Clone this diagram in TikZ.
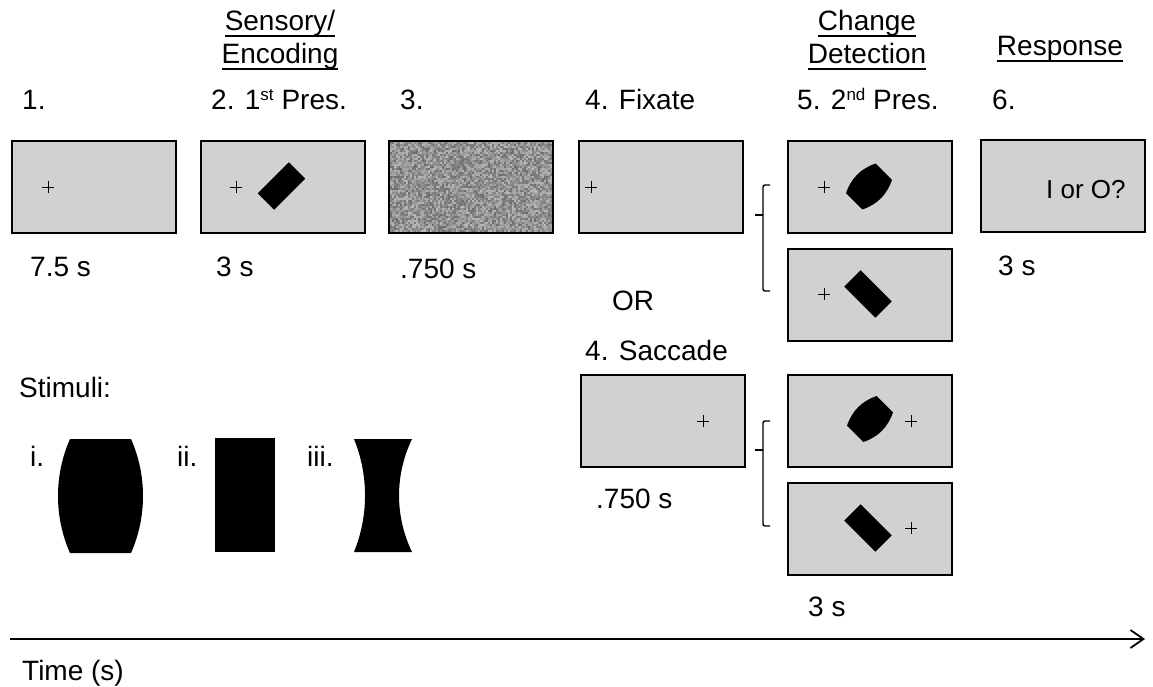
\documentclass[tikz,border=0pt]{standalone}
\usepackage{fontspec}
\setmainfont{Liberation Sans}
\usetikzlibrary{arrows.meta}
\definecolor{scrgray}{RGB}{208,209,211}
\newsavebox\ulbox
\newcommand{\ulx}[1]{\sbox\ulbox{#1}\rlap{\rule[-6pt]{\wd\ulbox}{1.8pt}}\usebox\ulbox}
\newcommand{\supx}[1]{\raisebox{9pt}{\fontsize{17}{17}\selectfont #1}}
\begin{document}
\begin{tikzpicture}[x=1pt,y=-1pt,
  lbl/.style={inner sep=0pt, anchor=base west, font=\fontsize{28}{34}\selectfont},
  hdr/.style={inner sep=0pt, anchor=base, font=\fontsize{28}{34}\selectfont},
  scr/.style={draw=black, line width=1.8pt, fill=scrgray, minimum width=164pt, minimum height=92pt, inner sep=0pt, anchor=north west},
  shp/.style={fill=black},
  brk/.style={line width=1.4pt, rounded corners=2pt},
  fixx/.pic={\draw[line width=0.9pt] (-6,0) -- (6,0) (0,-6) -- (0,6);},
  bulge/.pic={\fill (-21,11.5) .. controls (-7,18.5) and (7,18.5) .. (21,11.5) -- (21,-11.5) .. controls (7,-18.5) and (-7,-18.5) .. (-21,-11.5) -- cycle;},
  bar/.pic={\fill (-22,-11.5) rectangle (22,11.5);}
]
\useasboundingbox (0,0) rectangle (1153,687);

% headers
\node[hdr] (h1a) at (280,31) {\ulx{Sensory/}};
\node[hdr] (h1b) at (280,64) {\ulx{Encoding}};
\node[hdr] (h2a) at (867,31) {\ulx{Change}};
\node[hdr] (h2b) at (867,64) {\ulx{Detection}};
\node[hdr] (h3) at (1060,56) {\ulx{Response}};

% step labels
\node[lbl] (l1) at (22,110) {1.};
\node[lbl] (l2) at (211,110) {2. 1\supx{st} Pres.};
\node[lbl] (l3) at (400,110) {3.};
\node[lbl] (l4) at (585,110) {4. Fixate};
\node[lbl] (l5) at (797,110) {5. 2\supx{nd} Pres.};
\node[lbl] (l6) at (992,110) {6.};

% screens
\node[scr] (b1) at (11,140) {};
\node[scr] (b2) at (200,140) {};
\begin{scope}
  \clip (388,140) rectangle (552,232);
  \pgfmathsetseed{42}
  \foreach \i in {0,...,82}{\foreach \j in {0,...,46}{%
    \pgfmathsetmacro\g{int(28+30*rnd)}%
    \fill[black!\g] (388+2*\i,140+2*\j) rectangle ++(2,2);}}
\end{scope}
\node[scr, fill=none] (b3) at (388,140) {};
\node[scr] (b4) at (578,140) {};
\node[scr] (b5a) at (787,140) {};
\node[scr] (b5b) at (787,248) {};
\node[scr] (b6) at (980,139) {};
\node[scr] (bs) at (580,374) {};
\node[scr] (b5c) at (787,374) {};
\node[scr] (b5d) at (787,482) {};

% fixation crosses
\pic at (48,187) {fixx};
\pic at (236,187) {fixx};
\pic at (591,187) {fixx};
\pic at (824,187) {fixx};
\pic at (824,294) {fixx};
\pic at (703,421) {fixx};
\pic at (911,421) {fixx};
\pic at (911,528) {fixx};

% stimuli in screens
\pic[rotate=45] at (281.5,186) {bar};
\pic[rotate=45] at (869,186.5) {bulge};
\pic[rotate=-45] at (868,294) {bar};
\pic[rotate=45] at (870,419) {bulge};
\pic[rotate=-45] at (868,528) {bar};

\node[inner sep=0pt, anchor=base west, font=\fontsize{26}{30}\selectfont] (q) at (1046,198) {I or O?};

% brackets
\draw[brk] (770,185) -- (763,185) -- (763,291) -- (770,291);
\draw[brk] (763,215) -- (755,215);
\draw[brk] (770,421) -- (763,421) -- (763,526) -- (770,526);
\draw[brk] (763,450) -- (755,450);

% durations
\node[lbl] (d1) at (30,276) {7.5 s};
\node[lbl] (d2) at (216,276) {3 s};
\node[lbl] (d3) at (400,278) {.750 s};
\node[lbl] (d6) at (998,275) {3 s};
\node[lbl] (or) at (612,310) {OR};
\node[lbl] (l4s) at (585,360) {4. Saccade};
\node[lbl] (ds) at (596,508) {.750 s};
\node[lbl] (d5) at (808,616) {3 s};

% stimuli
\node[lbl] (st) at (19,397) {Stimuli:};
\node[lbl] (si) at (30,466) {i.};
\node[lbl] (sii) at (177,466) {ii.};
\node[lbl] (siii) at (307,466) {iii.};
\fill[shp] (70,439) .. controls (54,475) and (54,517) .. (70,553) -- (131,553) .. controls (147,517) and (147,475) .. (131,439) -- cycle;
\fill[shp] (215,438) rectangle (275,552);
\fill[shp] (354,439) .. controls (368.7,475) and (368.7,516) .. (354,552) -- (412,552) .. controls (394.7,516) and (394.7,475) .. (412,439) -- cycle;

% time axis
\coordinate (t0) at (10,639);
\coordinate (t1) at (1145,639);
\draw[line width=1.8pt, -{Straight Barb[length=13pt,width=18pt,line width=1.8pt]}] (t0) -- (t1);
\node[lbl] (time) at (22,680) {Time (s)};
\end{tikzpicture}
\end{document}
